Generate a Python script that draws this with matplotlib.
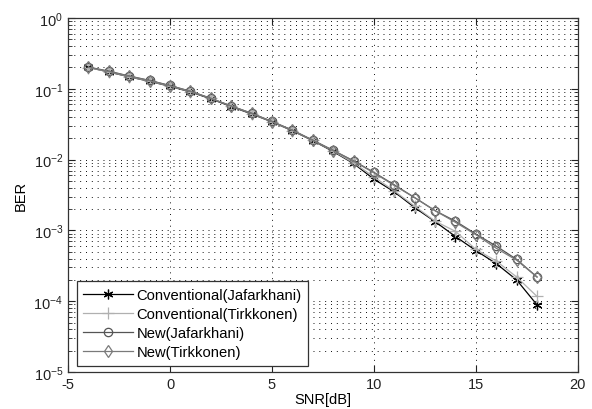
#!/usr/bin/env python3
"""BER vs SNR comparison of conventional and new decoders (MATLAB-style figure)."""

import matplotlib
matplotlib.use("Agg")
import matplotlib.pyplot as plt

snr_db = [-4, -3, -2, -1, 0, 1, 2, 3, 4, 5, 6, 7, 8, 9, 10, 11, 12, 13, 14, 15, 16, 17, 18]

conv_jafarkhani = [0.200, 0.172, 0.147, 0.127, 0.108, 0.090, 0.072, 0.056, 0.044, 0.034,
                   0.0255, 0.0185, 0.0130, 0.0088, 0.0053, 0.0035, 0.0021, 0.00133,
                   0.00082, 0.00052, 0.00034, 0.00020, 0.000089]
conv_tirkkonen = [0.198, 0.173, 0.148, 0.128, 0.109, 0.091, 0.073, 0.057, 0.0445, 0.0342,
                  0.0257, 0.0187, 0.0132, 0.0090, 0.0057, 0.0036, 0.0022, 0.00135,
                  0.00097, 0.00054, 0.00037, 0.00022, 0.000117]
new_jafarkhani = [0.202, 0.177, 0.151, 0.131, 0.111, 0.092, 0.073, 0.057, 0.045, 0.0345,
                  0.026, 0.0188, 0.0135, 0.0096, 0.0066, 0.0044, 0.0029, 0.0019,
                  0.00135, 0.00089, 0.00060, 0.00039, 0.00022]
new_tirkkonen = [0.200, 0.175, 0.150, 0.130, 0.110, 0.092, 0.073, 0.057, 0.045, 0.0344,
                 0.026, 0.0187, 0.0134, 0.0095, 0.0065, 0.0043, 0.0029, 0.0019,
                 0.00130, 0.00087, 0.00056, 0.00038, 0.00022]

series_labels = ["Conventional(Jafarkhani)", "Conventional(Tirkkonen)",
                 "New(Jafarkhani)", "New(Tirkkonen)"]

plt.rcParams["font.family"] = ["Liberation Sans", "DejaVu Sans"]
plt.rcParams["axes.unicode_minus"] = False

fig = plt.figure(figsize=(5.92, 4.10), dpi=100)
ax = fig.add_axes([0.115, 0.090, 0.861, 0.864])

styles = [
    dict(color="#000000", marker=(6, 2, 0), markersize=7),
    dict(color="#b0b0b0", marker="+", markersize=8),
    dict(color="#555555", marker="o", markersize=6, markerfacecolor="none"),
    dict(color="#7a7a7a", marker="d", markersize=6, markerfacecolor="none"),
]
for values, label, style in zip(
    [conv_jafarkhani, conv_tirkkonen, new_jafarkhani, new_tirkkonen], series_labels, styles
):
    ax.semilogy(snr_db, values, linewidth=0.9, markeredgewidth=0.9, label=label, **style)

ax.set_xlim(-5, 20)
ax.set_ylim(1e-5, 1)
ax.set_xticks([-5, 0, 5, 10, 15, 20])
ax.set_xticklabels(["-5", "0", "5", "10", "15", "20"])

grid_style = dict(color="#111111", linestyle=(0, (1, 5)), linewidth=0.7)
ax.grid(True, which="major", axis="both", **grid_style)
ax.grid(True, which="minor", axis="y", **grid_style)

ax.tick_params(which="both", direction="in", top=True, right=True, labelsize=10.5, colors="#222222")
ax.tick_params(which="major", length=5)
ax.tick_params(which="minor", length=3)
for spine in ax.spines.values():
    spine.set_color("#333333")
    spine.set_linewidth(0.9)

ax.set_xlabel("SNR[dB]", fontsize=10.5, labelpad=1)
ax.set_ylabel("BER", fontsize=10.5, labelpad=4)

legend = ax.legend(loc="lower left", bbox_to_anchor=(0.017, 0.018), borderaxespad=0,
                   fontsize=10.6, handlelength=3.4, fancybox=False, framealpha=1,
                   edgecolor="#333333", borderpad=0.45, labelspacing=0.34, handletextpad=0.2)
legend.get_frame().set_linewidth(0.9)

fig.savefig("out.png", dpi=100, facecolor="white")
